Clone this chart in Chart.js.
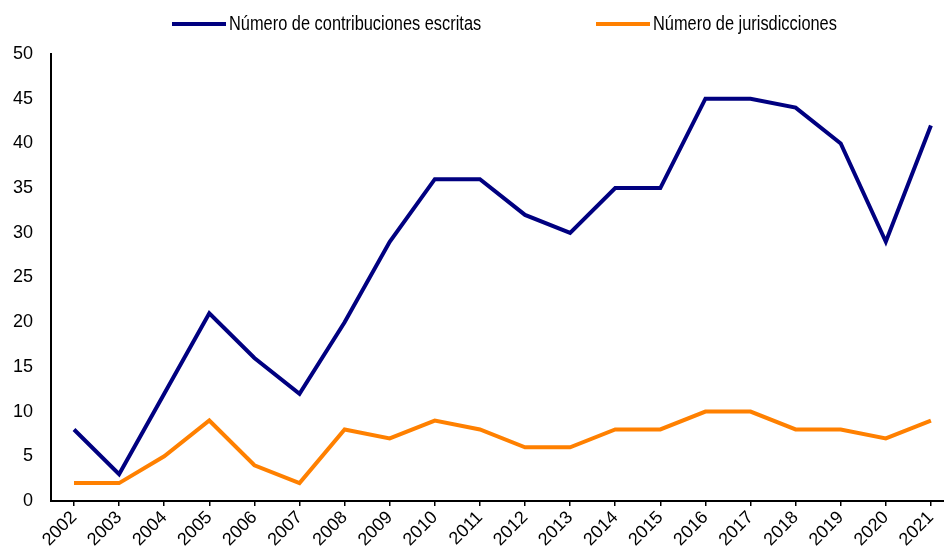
<!DOCTYPE html>
<html><head><meta charset="utf-8">
<script src="https://cdn.jsdelivr.net/npm/chart.js@4/dist/chart.umd.min.js"></script>
<style>html,body{margin:0;padding:0;background:#fff}#wrap{width:944px;height:546px}</style>
</head><body><div id="wrap"><canvas id="c"></canvas></div>
<script>
const years = [2002,2003,2004,2005,2006,2007,2008,2009,2010,2011,2012,2013,2014,2015,2016,2017,2018,2019,2020,2021];
const contribuciones = [8,3,12,21,16,12,20,29,36,36,32,30,35,35,45,45,44,40,29,42];
const jurisdicciones = [2,2,5,9,4,2,8,7,9,8,6,6,8,8,10,10,8,8,7,9];
const seriesLabels = ['Número de contribuciones escritas','Número de jurisdicciones'];
const seriesColors = ['#000080','#FF8000'];
const yTicks = [0,5,10,15,20,25,30,35,40,45,50];

const FONT = "'Liberation Sans', Arial, sans-serif";

const legendPlugin = {
  id: 'customLegend',
  afterDraw(chart, args, opts) {
    const ctx = chart.ctx;
    ctx.save();
    ctx.font = '19.5px ' + FONT;
    ctx.textBaseline = 'middle';
    ctx.textAlign = 'left';
    chart.data.datasets.forEach((ds, i) => {
      const x = opts.starts[i], y = opts.y;
      ctx.strokeStyle = ds.borderColor;
      ctx.lineWidth = 4;
      ctx.beginPath(); ctx.moveTo(x, y); ctx.lineTo(x + 54, y); ctx.stroke();
      ctx.fillStyle = '#000';
      const w = ctx.measureText(ds.label).width * opts.condense;
      ctx.fillText(ds.label, x + 57, y + 1, w);
    });
    ctx.restore();
  }
};

const mk = (vals) => years.map((yr, i) => ({x: yr, y: vals[i]}));

new Chart(document.getElementById('c'), {
  type: 'line',
  data: {
    datasets: [
      {label: seriesLabels[0], data: mk(contribuciones), borderColor: seriesColors[0], backgroundColor: seriesColors[0], borderWidth: 4, pointRadius: 0, tension: 0, borderJoinStyle: 'miter'},
      {label: seriesLabels[1], data: mk(jurisdicciones), borderColor: seriesColors[1], backgroundColor: seriesColors[1], borderWidth: 4, pointRadius: 0, tension: 0, borderJoinStyle: 'miter'}
    ]
  },
  options: {
    responsive: true, maintainAspectRatio: false, animation: false,
    layout: {padding: {top: 54, right: 0, left: 0, bottom: 0}},
    plugins: {
      legend: {display: false}, tooltip: {enabled: false},
      customLegend: {starts: [172, 596], y: 24, condense: 0.84}
    },
    scales: {
      x: {
        type: 'linear', min: 2001.49, max: 2021.29,
        afterFit(s) { s.height = 45; s.paddingRight = 0; },
        afterBuildTicks(s) { s.ticks = years.map(v => ({value: v})); },
        ticks: {autoSkip: false, minRotation: 45, maxRotation: 45, padding: 1, color: '#000',
          font: {family: FONT, size: 18}, callback: v => String(v)},
        grid: {drawOnChartArea: false, drawTicks: true, tickLength: 5, color: '#000', lineWidth: 1.5},
        border: {display: true, color: '#000', width: 2}
      },
      y: {
        min: 0, max: 50,
        afterFit(s) { s.width = 51; },
        afterBuildTicks(s) { s.ticks = yTicks.map(v => ({value: v})); },
        ticks: {padding: 18, color: '#000', font: {family: FONT, size: 18}},
        grid: {display: false, drawTicks: false},
        border: {display: true, color: '#000', width: 2}
      }
    }
  },
  plugins: [legendPlugin]
});
</script></body></html>
